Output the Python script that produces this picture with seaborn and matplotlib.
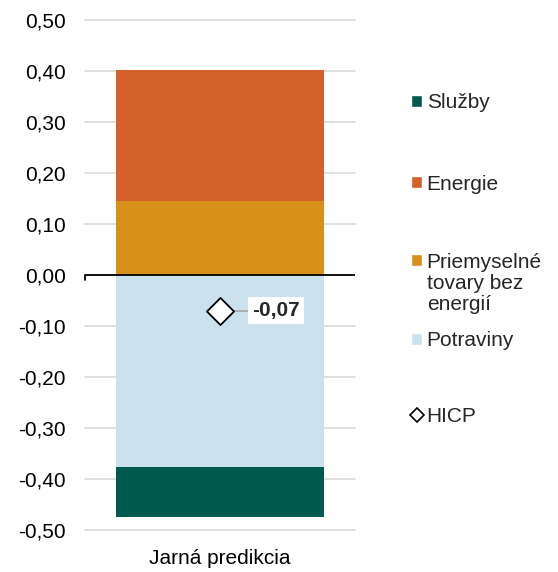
import matplotlib
matplotlib.use('Agg')
import matplotlib.pyplot as plt
import seaborn as sns
import numpy as np
from matplotlib.lines import Line2D
from matplotlib.patches import Patch

# data
category = ['Jarná predikcia']
series = ['Priemyselné tovary bez energií', 'Energie', 'Potraviny', 'Služby']
values = {
    'Priemyselné tovary bez energií': [0.145],
    'Energie': [0.257],
    'Potraviny': [-0.377],
    'Služby': [-0.098],
}
hicp = [-0.07]
colors = {
    'Služby': '#005A4E',
    'Energie': '#D4612A',
    'Priemyselné tovary bez energií': '#D7901A',
    'Potraviny': '#CCE1EE',
}
yticks = np.round(np.arange(-0.5, 0.51, 0.1), 2)

FS = 15

sns.set_style('white')
plt.rcParams['font.family'] = ['Liberation Sans', 'DejaVu Sans']

fig = plt.figure(figsize=(5.58, 5.72), dpi=100)
ax = fig.add_axes([85 / 558, 1 - 530 / 572, 270 / 558, 510 / 572])

# stacked segments, positives above zero, negatives below
pos_bottom = np.zeros(len(category))
neg_bottom = np.zeros(len(category))
for name in series:
    v = np.array(values[name])
    base = np.where(v >= 0, pos_bottom, neg_bottom)
    sns.barplot(x=category, y=v, bottom=base, color=colors[name], width=0.767,
                saturation=1, linewidth=0, ax=ax, zorder=2)
    pos_bottom += np.where(v >= 0, v, 0)
    neg_bottom += np.where(v < 0, v, 0)

ax.set_xlim(-0.5, 0.5)
ax.set_ylim(-0.5, 0.5)
ax.set_yticks(yticks)
ax.set_yticklabels([f'{t:.2f}'.replace('.', ',').replace('-0,00', '0,00') for t in yticks])
for t in yticks:
    if abs(t) > 1e-9:
        ax.axhline(t, color='#D9D9D9', lw=1.2, zorder=0, clip_on=False)
ax.axhline(0, color='black', lw=1.3, zorder=3)
ax.plot([-0.5, -0.5], [0, -0.009], color='black', lw=1.3, zorder=3, clip_on=False)

for s in ax.spines.values():
    s.set_visible(False)
ax.tick_params(axis='both', length=0, labelsize=FS, colors='black')
ax.tick_params(axis='y', pad=14)
ax.tick_params(axis='x', pad=14)
ax.set_xlabel('')
ax.set_ylabel('')

# HICP marker and label
ax.plot([0.0, 0.11], [hicp[0], hicp[0]], color='#A6A6A6', lw=1.2, zorder=4)
ax.scatter([0.0], hicp, marker='D', s=190, facecolor='white', edgecolor='black',
           linewidth=1.3, zorder=5)
ax.text(0.12, hicp[0], f'{hicp[0]:.2f}'.replace('.', ','), fontsize=FS,
        fontweight='bold', va='center', ha='left', zorder=6,
        bbox=dict(facecolor='white', edgecolor='none', pad=3))

# legend entries placed one by one
legend_items = [
    ('Služby', Patch(facecolor=colors['Služby']), 103),
    ('Energie', Patch(facecolor=colors['Energie']), 184),
    ('Priemyselné', Patch(facecolor=colors['Priemyselné tovary bez energií']), 262),
    ('Potraviny', Patch(facecolor=colors['Potraviny']), 341),
    ('HICP', Line2D([], [], marker='D', ls='', markersize=7, markerfacecolor='white',
                    markeredgecolor='black', markeredgewidth=1.2), 416),
]
for label, handle, ypix in legend_items:
    fig.legend([handle], [label], loc='center left',
               bbox_to_anchor=(411 / 558, 1 - ypix / 572), frameon=False,
               fontsize=FS, handlelength=0.55, handleheight=0.55,
               handletextpad=0.2, borderpad=0, borderaxespad=0)
fig.text(427 / 558, 1 - 274 / 572, 'tovary bez\nenergií', fontsize=FS,
         va='top', ha='left', linespacing=1.15)

fig.savefig('out.png', dpi=100)
